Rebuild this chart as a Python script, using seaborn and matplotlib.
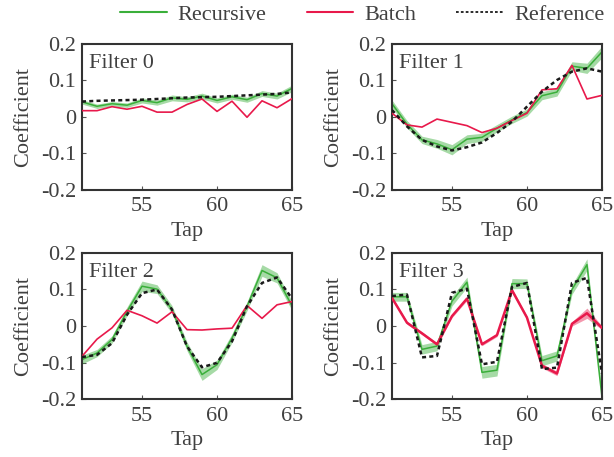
import matplotlib
matplotlib.use("Agg")
import matplotlib.pyplot as plt
import seaborn as sns
import pandas as pd
from matplotlib.lines import Line2D

taps = list(range(51, 66))

# Filter 0
rec0 = [0.040, 0.028, 0.035, 0.031, 0.044, 0.038, 0.051, 0.047, 0.056, 0.044, 0.054, 0.046, 0.063, 0.056, 0.077]
bat0 = [0.016, 0.016, 0.027, 0.020, 0.028, 0.012, 0.012, 0.033, 0.048, 0.014, 0.042, -0.002, 0.043, 0.024, 0.049]
ref0 = [0.041, 0.043, 0.044, 0.045, 0.046, 0.048, 0.050, 0.052, 0.053, 0.054, 0.056, 0.058, 0.060, 0.062, 0.066]
spr0 = [0.006, 0.006, 0.006, 0.006, 0.007, 0.007, 0.008, 0.007, 0.008, 0.007, 0.007, 0.007, 0.008, 0.008, 0.009]

# Filter 1
rec1 = [0.035, -0.021, -0.064, -0.075, -0.091, -0.062, -0.057, -0.032, -0.009, 0.011, 0.057, 0.067, 0.138, 0.132, 0.177]
bat1 = [0.009, -0.023, -0.029, -0.007, -0.016, -0.025, -0.044, -0.032, -0.011, 0.009, 0.073, 0.076, 0.140, 0.048, 0.058]
ref1 = [0.018, -0.027, -0.064, -0.082, -0.093, -0.084, -0.071, -0.045, -0.014, 0.027, 0.068, 0.100, 0.123, 0.132, 0.123]
spr1 = [0.010, 0.010, 0.010, 0.012, 0.014, 0.012, 0.011, 0.010, 0.010, 0.010, 0.011, 0.011, 0.012, 0.014, 0.016]

# Filter 2
rec2 = [-0.092, -0.074, -0.037, 0.040, 0.109, 0.101, 0.045, -0.056, -0.133, -0.106, -0.033, 0.054, 0.152, 0.132, 0.055]
bat2 = [-0.083, -0.036, -0.005, 0.043, 0.028, 0.008, 0.039, -0.010, -0.011, -0.008, -0.006, 0.056, 0.021, 0.058, 0.067]
ref2 = [-0.085, -0.079, -0.047, 0.031, 0.090, 0.100, 0.045, -0.056, -0.113, -0.101, -0.042, 0.054, 0.118, 0.133, 0.075]
spr2 = [0.012, 0.010, 0.010, 0.012, 0.014, 0.012, 0.011, 0.012, 0.016, 0.013, 0.012, 0.012, 0.016, 0.014, 0.012]

# Filter 3
rec3 = [0.080, 0.080, -0.064, -0.055, 0.068, 0.120, -0.127, -0.121, 0.116, 0.116, -0.095, -0.082, 0.100, 0.168, -0.195]
bat3 = [0.077, 0.009, -0.020, -0.050, 0.027, 0.075, -0.050, -0.025, 0.098, 0.023, -0.109, -0.130, 0.006, 0.035, -0.005]
ref3 = [0.082, 0.086, -0.086, -0.082, 0.091, 0.102, -0.105, -0.098, 0.107, 0.118, -0.118, -0.114, 0.118, 0.132, -0.130]
spr3 = [0.012, 0.012, 0.013, 0.013, 0.013, 0.014, 0.016, 0.016, 0.014, 0.013, 0.014, 0.014, 0.013, 0.016, 0.012]
sprb3 = [0.004, 0.004, 0.004, 0.004, 0.004, 0.005, 0.004, 0.004, 0.006, 0.005, 0.006, 0.006, 0.006, 0.014, 0.005]

filters = [
    ("Filter 0", rec0, spr0, bat0, None, ref0),
    ("Filter 1", rec1, spr1, bat1, None, ref1),
    ("Filter 2", rec2, spr2, bat2, None, ref2),
    ("Filter 3", rec3, spr3, bat3, sprb3, ref3),
]

GREEN = "#3aaf3a"
RED = "#e8194b"
TEXT = "#404040"
FS = 16

sns.set_style("ticks")
plt.rcParams["font.family"] = ["Liberation Serif", "DejaVu Serif"]


def band_frame(center, spread):
    rows = []
    for t, c, s in zip(taps, center, spread):
        rows += [(t, c - s), (t, c), (t, c + s)]
    return pd.DataFrame(rows, columns=["tap", "coef"])


def minmax(v):
    return (v.min(), v.max())


fig = plt.figure(figsize=(6.14, 4.57), dpi=100)
positions = [
    [0.1336, 0.5853, 0.3420, 0.3195],
    [0.6384, 0.5853, 0.3420, 0.3195],
    [0.1336, 0.1269, 0.3420, 0.3195],
    [0.6384, 0.1269, 0.3420, 0.3195],
]

for pos, (name, rec, spr, bat, sprb, ref) in zip(positions, filters):
    ax = fig.add_axes(pos)
    sns.lineplot(data=band_frame(rec, spr), x="tap", y="coef", ax=ax,
                 estimator="mean", errorbar=minmax, color=GREEN, linewidth=1.1,
                 err_kws={"alpha": 0.45, "linewidth": 0}, zorder=2)
    if sprb is None:
        sns.lineplot(x=taps, y=bat, ax=ax, color=RED, linewidth=1.2, zorder=3)
    else:
        sns.lineplot(data=band_frame(bat, sprb), x="tap", y="coef", ax=ax,
                     estimator="mean", errorbar=minmax, color=RED, linewidth=1.8,
                     err_kws={"alpha": 0.45, "linewidth": 0}, zorder=3)
    sns.lineplot(x=taps, y=ref, ax=ax, color="#1a1a1a", linewidth=1.8,
                 zorder=4).lines[-1].set_dashes((1.6, 1.3))

    ax.set_xlim(51, 65)
    ax.set_ylim(-0.2, 0.2)
    ax.set_xticks([55, 60, 65])
    ax.set_yticks([-0.2, -0.1, 0, 0.1, 0.2])
    ax.set_yticklabels(["-0.2", "-0.1", "0", "0.1", "0.2"])
    ax.tick_params(direction="in", length=3, width=0.8, colors="#555555",
                   labelcolor=TEXT, labelsize=FS, pad=4)
    ax.tick_params(axis="x", pad=5.5)
    for sp in ax.spines.values():
        sp.set_color("#333333")
        sp.set_linewidth(1.5)
    ax.set_xlabel("Tap", fontsize=FS, color=TEXT, labelpad=4)
    ax.set_ylabel("Coefficient", fontsize=FS, color=TEXT, labelpad=6)
    ax.text(0.035, 0.93, name, transform=ax.transAxes, fontsize=FS,
            color=TEXT, ha="left", va="top")

handles = [
    Line2D([], [], color=GREEN, linewidth=1.5),
    Line2D([], [], color=RED, linewidth=1.5),
    Line2D([], [], color="#1a1a1a", linewidth=1.3, linestyle=(0, (1.5, 1.2))),
]
leg = fig.legend(handles, ["Recursive", "Batch", "Reference"], loc="upper center",
                 bbox_to_anchor=(0.59, 1.035), ncol=3, frameon=False,
                 fontsize=FS, handlelength=2.1, columnspacing=1.8, handletextpad=0.5)
for t in leg.get_texts():
    t.set_color(TEXT)

fig.savefig("out.png", dpi=100)
